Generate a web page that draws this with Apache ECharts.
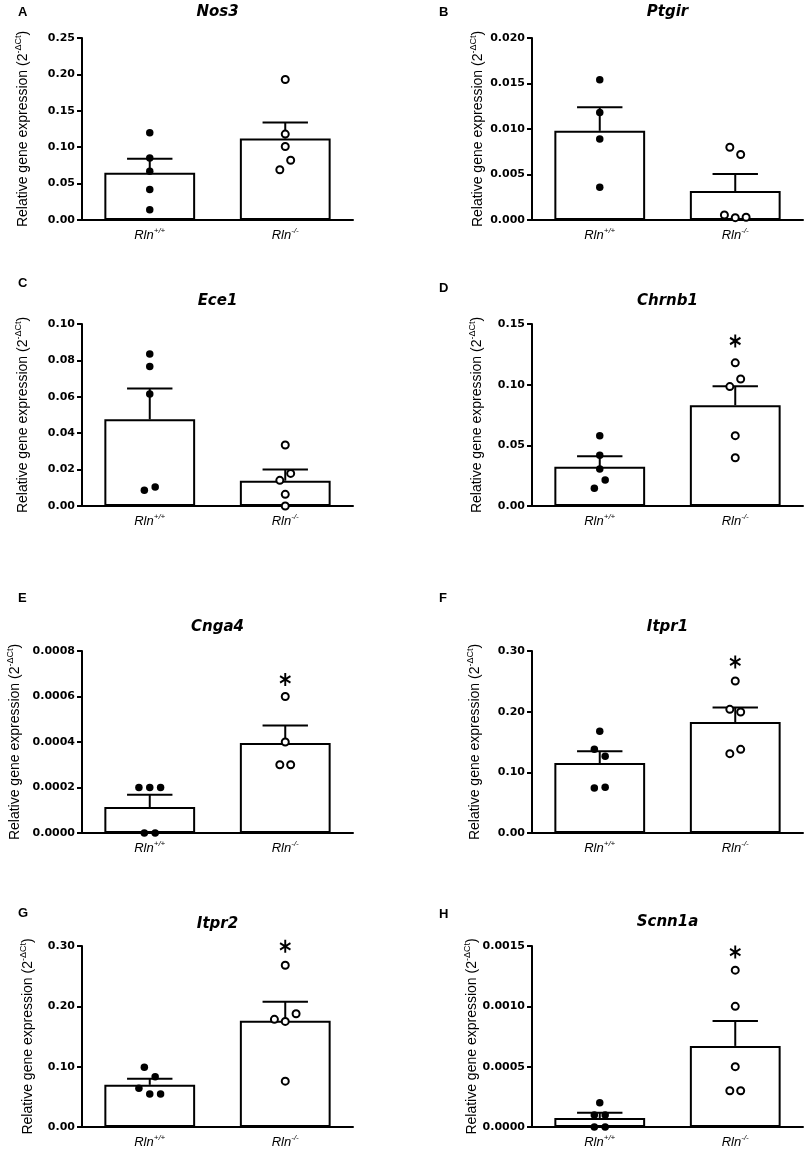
<!DOCTYPE html>
<html><head><meta charset="utf-8">
<script src="https://cdn.jsdelivr.net/npm/echarts@6/dist/echarts.min.js"></script>
<style>html,body{margin:0;padding:0;background:#fff}#c{width:809px;height:1152px}</style>
</head><body><div id="c"></div>
<script>
// ---- data ----
const genes = ['Nos3', 'Ptgir', 'Ece1', 'Chrnb1', 'Cnga4', 'Itpr1', 'Itpr2', 'Scnn1a'];
const panelLetters = ['A', 'B', 'C', 'D', 'E', 'F', 'G', 'H'];
const categories = ['Rln+/+', 'Rln-/-'];
const meanWT   = [0.065, 0.0098, 0.0476, 0.0324, 0.000114, 0.1154, 0.0699, 0.0000743];
const semTopWT = [0.084, 0.0124, 0.0645, 0.0409, 0.000168, 0.1346, 0.0798, 0.000118];
const meanKO   = [0.112, 0.00318, 0.0139, 0.083, 0.000396, 0.183, 0.176, 0.000672];
const semTopKO = [0.134, 0.00505, 0.020, 0.0986, 0.000472, 0.207, 0.2075, 0.000878];
const axisMax  = [0.25, 0.020, 0.10, 0.15, 0.0008, 0.30, 0.30, 0.0015];
const axisStep = [0.05, 0.005, 0.02, 0.05, 0.0002, 0.10, 0.10, 0.0005];
const tickDecimals = [2, 3, 2, 2, 4, 2, 2, 4];
const pointsWT = [
  [0.120, 0.085, 0.067, 0.042, 0.014],
  [0.0154, 0.0118, 0.0089, 0.0036],
  [0.0835, 0.0766, 0.0615, 0.0104, 0.0086],
  [0.058, 0.0418, 0.0305, 0.0214, 0.0146],
  [0.0002, 0.0002, 0.0002, 0, 0],
  [0.1676, 0.1379, 0.1264, 0.0742, 0.0753],
  [0.099, 0.0831, 0.0644, 0.0545, 0.0545],
  [0.0002, 0.0001, 0.0001, 0, 0]
];
const jitterWT = [
  [0, 0, 0, 0, 0],
  [0, 0, 0, 0],
  [0, 0, 0, 0.04, -0.04],
  [0, 0, 0, 0.04, -0.04],
  [-0.08, 0, 0.08, -0.04, 0.04],
  [0, -0.04, 0.04, -0.04, 0.04],
  [-0.04, 0.04, -0.08, 0, 0.08],
  [0, -0.04, 0.04, -0.04, 0.04]
];
const pointsKO = [
  [0.193, 0.118, 0.101, 0.082, 0.069],
  [0.0080, 0.0072, 0.00055, 0.00026, 0.0003],
  [0.0335, 0.0179, 0.0141, 0.0064, 0.0],
  [0.118, 0.1047, 0.0984, 0.058, 0.0398],
  [0.0006, 0.0004, 0.0003, 0.0003],
  [0.2505, 0.2038, 0.1995, 0.1308, 0.1379],
  [0.268, 0.1877, 0.1784, 0.175, 0.076],
  [0.0013, 0.001, 0.0005, 0.0003, 0.0003]
];
const jitterKO = [
  [0, 0, 0, 0.04, -0.04],
  [-0.04, 0.04, -0.08, 0, 0.08],
  [0, 0.04, -0.04, 0, 0],
  [0, 0.04, -0.04, 0, 0],
  [0, 0, -0.04, 0.04],
  [0, -0.04, 0.04, -0.04, 0.04],
  [0, 0.08, -0.08, 0, 0],
  [0, 0, 0, -0.04, 0.04]
];
const asteriskY = [null, null, null, 0.136, 0.000675, 0.282, 0.2995, 0.00145];

// ---- layout ----
const gridLeft = [82, 532];
const gridTop = [38, 324, 651, 946];
const gridH = [182, 182, 182, 181];
const gridW = 271;
const nameGaps = [50, 45, 50, 46, 58, 48, 45, 50];
const letterTop = [6, 6, 277, 282, 592, 592, 907, 908];
const letterLeft = [18, 439];
const titleTop = [5, 5, 294, 294, 620, 620, 917, 915];

const asteriskPath = 'path://M0,-1L0,1M-0.866,-0.5L0.866,0.5M-0.866,0.5L0.866,-0.5';

const grids = [], xAxes = [], yAxes = [], series = [], titles = [];
for (let k = 0; k < 8; k++) {
  const col = k % 2, row = Math.floor(k / 2);
  grids.push({ left: gridLeft[col], top: gridTop[row], width: gridW, height: gridH[row], containLabel: false, outerBoundsMode: 'none' });
  xAxes.push({
    type: 'category', gridIndex: k, data: categories,
    axisLine: { onZero: false, lineStyle: { color: '#000', width: 2 } },
    axisTick: { alignWithLabel: true, length: 5, lineStyle: { color: '#000', width: 2 } },
    splitLine: { show: false },
    axisLabel: {
      margin: 7,
      formatter: v => '{i|' + v.slice(0, 3) + '}{s|' + v.slice(3) + '}',
      rich: {
        i: { fontFamily: 'Liberation Sans', fontStyle: 'italic', fontSize: 13, color: '#000', lineHeight: 16 },
        s: { fontFamily: 'Liberation Sans', fontStyle: 'italic', fontSize: 8, color: '#000', lineHeight: 16, verticalAlign: 'top' }
      }
    }
  });
  xAxes.push({ type: 'value', gridIndex: k, min: -0.5, max: 1.5, show: false });
  const dec = tickDecimals[k];
  yAxes.push({
    type: 'value', gridIndex: k, min: 0, max: axisMax[k], interval: axisStep[k],
    axisLine: { show: true, onZero: false, lineStyle: { color: '#000', width: 2 } },
    axisTick: { show: true, length: 5, lineStyle: { color: '#000', width: 2 } },
    splitLine: { show: false },
    axisLabel: { margin: 7, formatter: v => v.toFixed(dec), fontFamily: 'DejaVu Sans', fontWeight: 'bold', fontSize: 11, color: '#000' },
    name: '{a|Relative gene expression (2}{s|-ΔCt}{a|)}',
    nameLocation: 'middle', nameGap: nameGaps[k], nameRotate: 90,
    nameTextStyle: {
      rich: {
        a: { fontFamily: 'Liberation Sans', fontSize: 14, color: '#000', lineHeight: 18 },
        s: { fontFamily: 'Liberation Sans', fontSize: 9, color: '#000', lineHeight: 18, verticalAlign: 'top' }
      }
    }
  });
  series.push({
    type: 'bar', xAxisIndex: 2 * k, yAxisIndex: k, barWidth: '67%', silent: true, z: 2,
    data: [meanWT[k], meanKO[k]],
    itemStyle: { color: '#fff', borderColor: '#000', borderWidth: 2 }
  });
  series.push({
    type: 'custom', xAxisIndex: 2 * k, yAxisIndex: k, silent: true, z: 3,
    data: [[0, meanWT[k], semTopWT[k]], [1, meanKO[k], semTopKO[k]]],
    encode: { x: 0, y: [1, 2] },
    renderItem: (params, api) => {
      const x = api.value(0);
      const lo = api.coord([x, api.value(1)]);
      const hi = api.coord([x, api.value(2)]);
      const half = api.size([1, 0])[0] * 0.67 * 0.25;
      return {
        type: 'group', children: [
          { type: 'line', shape: { x1: lo[0], y1: lo[1], x2: hi[0], y2: hi[1] }, style: { stroke: '#000', lineWidth: 2 } },
          { type: 'line', shape: { x1: hi[0] - half, y1: hi[1], x2: hi[0] + half, y2: hi[1] }, style: { stroke: '#000', lineWidth: 2 } }
        ]
      };
    }
  });
  series.push({
    type: 'scatter', xAxisIndex: 2 * k + 1, yAxisIndex: k, silent: true, z: 4,
    symbol: 'circle', symbolSize: 7.5,
    data: pointsWT[k].map((v, i) => [0 + jitterWT[k][i], v]),
    itemStyle: { color: '#000', opacity: 1 }
  });
  series.push({
    type: 'scatter', xAxisIndex: 2 * k + 1, yAxisIndex: k, silent: true, z: 4,
    symbol: 'circle', symbolSize: 7,
    data: pointsKO[k].map((v, i) => [1 + jitterKO[k][i], v]),
    itemStyle: { color: '#fff', borderColor: '#000', borderWidth: 2, opacity: 1 }
  });
  if (asteriskY[k] !== null) {
    series.push({
      type: 'scatter', xAxisIndex: 2 * k + 1, yAxisIndex: k, silent: true, z: 4,
      symbol: asteriskPath, symbolSize: [12, 13], symbolKeepAspect: true,
      data: [[1, asteriskY[k]]],
      itemStyle: { color: 'transparent', borderColor: '#000', borderWidth: 2, opacity: 1 }
    });
  }
  titles.push({
    text: genes[k], left: gridLeft[col] + gridW / 2, top: titleTop[k], textAlign: 'center', padding: 0,
    textStyle: { fontFamily: 'DejaVu Sans', fontWeight: 'bold', fontStyle: 'italic', fontSize: 15, color: '#000' }
  });
  titles.push({
    text: panelLetters[k], left: letterLeft[col], top: letterTop[k], padding: 0,
    textStyle: { fontFamily: 'Liberation Sans', fontWeight: 'bold', fontSize: 13, color: '#000' }
  });
}

const chart = echarts.init(document.getElementById('c'), null, { renderer: 'canvas' });
chart.setOption({
  animation: false,
  backgroundColor: '#fff',
  title: titles,
  grid: grids,
  xAxis: xAxes,
  yAxis: yAxes,
  series: series
});
</script>
</body></html>
